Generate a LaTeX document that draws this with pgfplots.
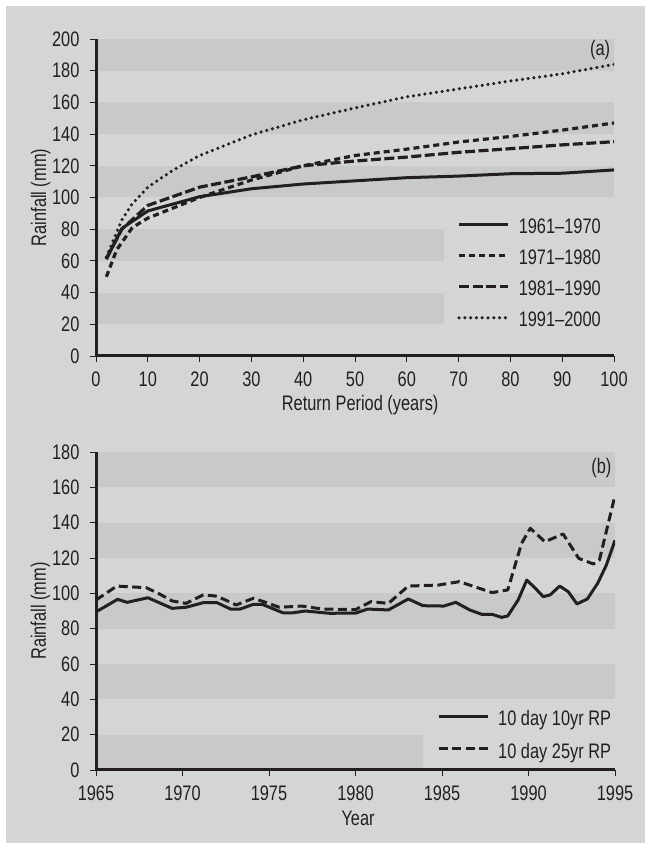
\documentclass[border=0pt]{standalone}
\usepackage{fontspec}
\setmainfont[FakeStretch=0.78]{Liberation Sans}
\usepackage{pgfplots}
\pgfplotsset{compat=1.18}
\definecolor{bg}{RGB}{212,213,215}
\definecolor{band}{RGB}{200,201,203}
\definecolor{ink}{RGB}{35,31,32}
\newcommand{\cf}{\fontsize{21}{24}\selectfont}
\pgfplotsset{
  mystyle/.style={
    scale only axis,
    axis on top,
    axis x line*=bottom, axis y line*=left,
    axis line style={line width=3pt, ink, -},
    tick align=outside,
    major tick length=6pt,
    tick style={line width=0.9pt, ink},
    every tick label/.append style={font=\cf, text=ink},
    xticklabel style={yshift=-6pt},
    yticklabel style={xshift=-7pt},
    /pgf/number format/assume math mode=true,
    label style={font=\cf, text=ink},
    legend style={draw=none, fill=none, font=\cf, text=ink, column sep=9pt, inner sep=0pt, nodes={inner sep=0pt}},
    legend cell align=left,
  }
}
\begin{document}
\begin{tikzpicture}
\fill[white] (0pt,0pt) rectangle (651pt,850pt);
\fill[bg] (6pt,7pt) rectangle (645pt,843.5pt);

% ---------- (a) ----------
\begin{axis}[mystyle,
  at={(96pt,494pt)}, anchor=south west,
  width=518pt, height=317pt,
  xmin=0, xmax=100, ymin=0, ymax=200,
  xtick={0,10,...,100}, ytick={0,20,...,200},
  xlabel={Return Period (years)}, ylabel={Rainfall (mm)},
  xlabel style={at={(axis description cs:0.51,-0.1546)}, anchor=center},
  ylabel style={at={(axis description cs:-0.107,0.5)}, anchor=center},
  legend style={at={(axis cs:69.7,86.75)}, anchor=north west, row sep=15pt},
  legend image code/.code={\draw[#1] (0pt,2.5pt) -- (49pt,2.5pt);},
]
\fill[band] (axis cs:0,180) rectangle (axis cs:100,200);
\fill[band] (axis cs:0,140) rectangle (axis cs:100,160);
\fill[band] (axis cs:0,100) rectangle (axis cs:100,120);
\fill[band] (axis cs:0,60) rectangle (axis cs:67.2,80);
\fill[band] (axis cs:0,20) rectangle (axis cs:67.2,40);

\addplot[ink, line width=3pt, line join=round] coordinates {
(2,61) (5,80.5) (10,91.5) (20,100.5) (30,105.5) (40,108.5) (50,110.5) (60,112.5) (70,113.5) (80,115) (90,115.3) (100,117.4)};
\addlegendentry{1961–1970}
\addplot[ink, line width=3.2pt, dash pattern=on 6pt off 4pt] coordinates {
(2,50) (4,67) (7,81) (10,87) (20,100) (30,111) (40,120) (50,126.5) (60,130.5) (70,135) (80,138.5) (90,142.5) (100,147)};
\addlegendentry{1971–1980}
\addplot[ink, line width=3.2pt, dash pattern=on 10pt off 3.5pt] coordinates {
(2,61.5) (5,80) (10,95) (20,106.5) (30,113) (40,120) (50,123) (60,125.5) (70,128.5) (80,130.8) (90,133.2) (100,135.2)};
\addlegendentry{1981–1990}
\addplot[ink, line width=3.5pt, line cap=round, dash pattern=on 0pt off 5.8pt] coordinates {
(2,62.5) (5,86) (7,96) (10,106.5) (15,117.5) (20,126.5) (30,139.5) (40,149) (50,156.5) (60,163.5) (70,168.5) (80,173.5) (90,178) (100,184)};
\addlegendentry{1991–2000}
\node[anchor=east, font=\cf, text=ink, inner sep=0pt] at (axis cs:99.3,193) {(a)};
\end{axis}

% ---------- (b) ----------
\begin{axis}[mystyle,
  at={(96pt,80pt)}, anchor=south west,
  width=519pt, height=318pt,
  xmin=1965, xmax=1995, ymin=0, ymax=180,
  xtick={1965,1970,...,1995}, ytick={0,20,...,180},
  xticklabel style={/pgf/number format/1000 sep={}},
  xlabel={Year}, ylabel={Rainfall (mm)},
  xlabel style={at={(axis description cs:0.505,-0.151)}, anchor=center},
  ylabel style={at={(axis description cs:-0.107,0.5)}, anchor=center},
  legend style={at={(axis cs:1984.71,33.7)}, anchor=north west, row sep=15.6pt},
  legend image code/.code={\draw[#1] (0pt,2.5pt) -- (49pt,2.5pt);},
]
\fill[band] (axis cs:1965,160) rectangle (axis cs:1995,180);
\fill[band] (axis cs:1965,120) rectangle (axis cs:1995,140);
\fill[band] (axis cs:1965,80) rectangle (axis cs:1995,100);
\fill[band] (axis cs:1965,40) rectangle (axis cs:1995,60);
\fill[band] (axis cs:1965,0) rectangle (axis cs:1983.9,20);

\addplot[ink, line width=3pt, line join=round] coordinates {
(1965,89.5) (1966.25,96.6) (1966.8,94.9) (1968,97.5) (1969.4,91.5) (1970.2,92.1) (1971.2,94.7) (1972,94.7) (1972.8,91) (1973.3,91) (1974.1,93.8) (1974.6,93.8) (1975.8,89) (1976.4,89) (1977.1,90) (1978.5,88.7) (1980,88.8) (1980.7,91.1) (1981.9,90.6) (1983.05,96.8) (1983.9,93) (1985.1,92.8) (1985.8,94.9) (1986.6,90.6) (1987.3,88.1) (1987.9,88.1) (1988.45,86.4) (1988.8,87.2) (1989.4,96.2) (1989.9,107.5) (1990.4,102.8) (1990.85,98.1) (1991.25,99.1) (1991.8,104.1) (1992.3,100.9) (1992.8,94) (1993.4,96.8) (1994,105.7) (1994.5,116) (1995,130)};
\addlegendentry{10 day 10yr RP}
\addplot[ink, line width=3pt, line join=round, dash pattern=on 9pt off 4.5pt] coordinates {
(1965,96.2) (1966.2,104.1) (1967.9,103.2) (1968.6,100) (1969.4,95.7) (1970.2,94.3) (1971.2,99.1) (1971.9,98.5) (1972.4,96.6) (1973.1,93.4) (1974.1,97.2) (1974.8,94.9) (1975.6,92.1) (1976.9,92.8) (1978.1,91.1) (1980,90.8) (1980.9,95.3) (1981.9,94.3) (1983.05,104.1) (1984.8,104.7) (1986,106.6) (1987.9,100.4) (1988.8,101.9) (1989.6,128.3) (1990.1,136.8) (1990.95,129.2) (1992,133.6) (1992.9,119.8) (1993.75,116.6) (1994.1,118.9) (1995,155.5)};
\addlegendentry{10 day 25yr RP}
\node[anchor=east, font=\cf, text=ink, inner sep=0pt] at (axis cs:1994.8,171) {(b)};
\end{axis}
\end{tikzpicture}
\end{document}
